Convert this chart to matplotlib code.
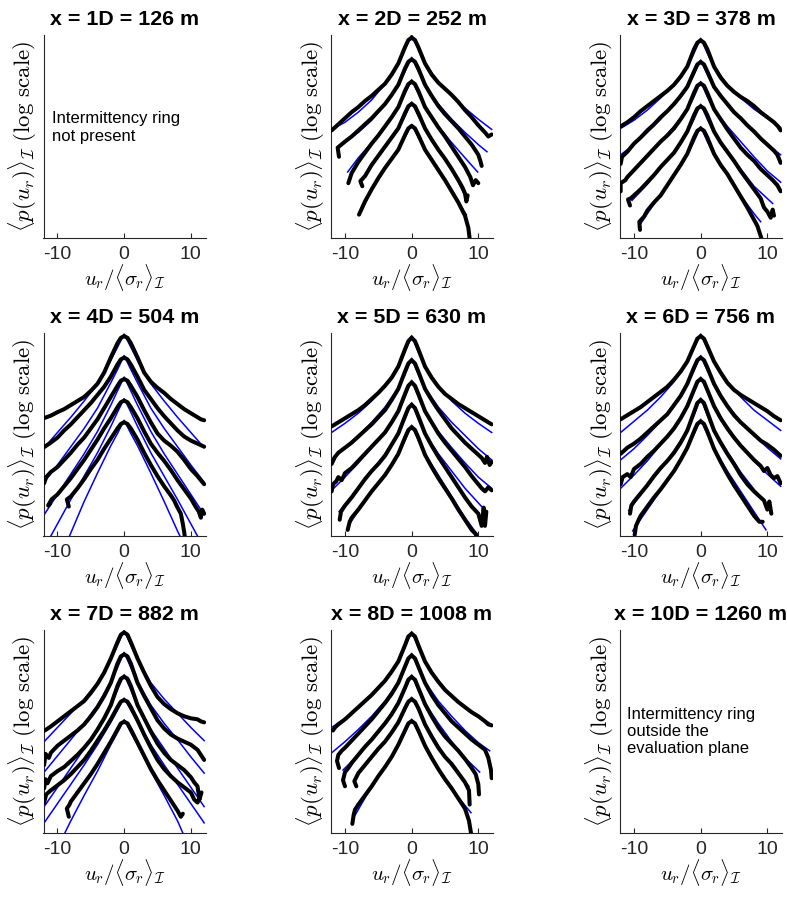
import numpy as np
import matplotlib.pyplot as plt

plt.rcParams.update({
    "font.family": ["Liberation Sans", "DejaVu Sans"],
    "mathtext.fontset": "cm",
    "axes.linewidth": 0.8,
    "axes.edgecolor": "#262626",
    "xtick.color": "#262626",
    "xtick.direction": "in",
    "xtick.major.size": 3.5,
})

TITLES = ["x = 1D = 126 m", "x = 2D = 252 m", "x = 3D = 378 m",
          "x = 4D = 504 m", "x = 5D = 630 m", "x = 6D = 756 m",
          "x = 7D = 882 m", "x = 8D = 1008 m", "x = 10D = 1260 m"]
NOTE_1D = "Intermittency ring\nnot present"
NOTE_10D = "Intermittency ring\noutside the\nevaluation plane"

# every curve: (u_r / <sigma_r>, log10 p) pairs, vertical offset arbitrary
PDF_2D = [
    [(-12, 5.3), (-11.5, 5.45), (-11, 5.6), (-10, 5.9), (-9, 6.2), (-8, 6.45), (-7, 6.75), (-6, 7.0), (-5, 7.3), (-4, 7.6), (-3, 8.05), (-2, 8.6), (-1, 9.4), (-0.5, 9.75), (0, 9.87), (0.5, 9.75), (1, 9.4), (2, 8.6), (3, 8.05), (4, 7.65), (5, 7.35), (6, 7.05), (7, 6.7), (8, 6.3), (9, 5.95), (10, 5.55), (11, 5.2), (11.5, 5.0), (12, 5.1)],
    [(-10.9, 4.0), (-11.1, 4.45), (-10, 4.75), (-9, 5.0), (-8, 5.3), (-7, 5.6), (-6, 5.9), (-5, 6.25), (-4, 6.6), (-3, 7.05), (-2, 7.55), (-1, 8.35), (-0.5, 8.68), (0, 8.8), (0.5, 8.68), (1, 8.35), (2, 7.55), (3, 7.0), (4, 6.5), (5, 6.1), (6, 5.75), (7, 5.4), (8, 5.0), (9, 4.6), (10, 4.1), (10.3, 3.8), (10.5, 3.55)],
    [(-9.5, 2.7), (-9, 3.2), (-8, 3.75), (-7, 4.2), (-6, 4.65), (-5, 5.05), (-4, 5.5), (-3, 5.95), (-2, 6.45), (-1, 7.25), (-0.5, 7.58), (0, 7.7), (0.5, 7.58), (1, 7.25), (2, 6.45), (3, 5.95), (4, 5.45), (5, 5.0), (6, 4.5), (7, 4.0), (8, 3.5), (8.8, 3.0), (9.2, 2.6), (9.6, 2.85), (10, 2.7)],
    [(-7.4, 2.55), (-7.7, 2.8), (-7, 3.05), (-6, 3.6), (-5, 4.05), (-4, 4.5), (-3, 4.95), (-2, 5.4), (-1, 6.15), (-0.5, 6.49), (0, 6.61), (0.5, 6.49), (1, 6.15), (2, 5.4), (3, 4.85), (4, 4.35), (5, 3.9), (6, 3.4), (7, 2.85), (7.6, 2.5), (8, 2.2), (8.2, 1.8), (8.4, 2.1)],
    [(-7.9, 1.15), (-7, 1.8), (-6, 2.4), (-5, 2.95), (-4, 3.45), (-3, 3.9), (-2, 4.35), (-1, 5.07), (-0.5, 5.4), (0, 5.52), (0.5, 5.4), (1, 5.07), (2, 4.35), (3, 3.85), (4, 3.35), (5, 2.85), (6, 2.3), (7, 1.75), (8, 1.1), (8.5, 0.5), (8.8, -0.3)],
]
FIT_2D = [
    [(-12, 5.35), (-10, 5.7), (-8, 6.2), (-6, 6.8), (-4, 7.6), (-2, 8.6), (-1, 9.3), (0, 10.0), (1, 9.3), (2, 8.6), (4, 7.7), (6, 7.0), (8, 6.4), (10, 5.85), (12, 5.35)],
    [(-11.2, 4.45), (-10, 4.75), (-8, 5.2), (-6, 5.8), (-4, 6.6), (-2, 7.55), (-1, 8.2), (0, 8.9), (1, 8.2), (2, 7.55), (4, 6.6), (6, 5.85), (8, 5.2), (10, 4.6), (11.3, 4.25)],
    [(-9.6, 3.25), (-8, 3.95), (-6, 4.7), (-4, 5.5), (-2, 6.45), (-1, 7.1), (0, 7.8), (1, 7.1), (2, 6.45), (4, 5.5), (6, 4.7), (8, 3.95), (9.9, 3.25)],
    [(-7.6, 2.75), (-6, 3.55), (-4, 4.45), (-2, 5.4), (-1, 6.0), (0, 6.7), (1, 6.0), (2, 5.4), (4, 4.4), (6, 3.45), (8.1, 2.0)],
    [(-7.6, 1.3), (-6, 2.35), (-4, 3.4), (-2, 4.35), (-1, 4.95), (0, 5.6), (1, 4.95), (2, 4.35), (4, 3.35), (6, 2.3), (8.2, 1.15)],
]

PDF_3D = [
    [(-12, 5.5), (-11, 5.7), (-10, 5.95), (-9, 6.25), (-8, 6.5), (-7, 6.75), (-6, 7.0), (-5, 7.25), (-4, 7.55), (-3, 7.95), (-2, 8.45), (-1, 9.3), (-0.5, 9.62), (0, 9.74), (0.5, 9.62), (1, 9.3), (2, 8.45), (3, 7.9), (4, 7.5), (5, 7.2), (6, 6.95), (7, 6.75), (8, 6.5), (9, 6.2), (10, 5.95), (11, 5.7), (11.6, 5.5), (12, 5.3)],
    [(-12, 3.65), (-11.8, 4.0), (-11, 4.25), (-10, 4.65), (-9, 4.95), (-8, 5.3), (-7, 5.6), (-6, 5.95), (-5, 6.25), (-4, 6.6), (-3, 7.0), (-2, 7.45), (-1, 8.2), (-0.5, 8.55), (0, 8.67), (0.5, 8.55), (1, 8.2), (2, 7.45), (3, 7.0), (4, 6.6), (5, 6.2), (6, 5.9), (7, 5.55), (8, 5.25), (9, 4.9), (10, 4.6), (11, 4.3), (11.5, 4.1), (12, 3.7)],
    [(-12, 2.3), (-12, 2.7), (-11.3, 2.85), (-11, 3.0), (-10, 3.35), (-9, 3.7), (-8, 4.05), (-7, 4.4), (-6, 4.75), (-5, 5.05), (-4, 5.4), (-3, 5.85), (-2, 6.35), (-1, 7.15), (-0.5, 7.5), (0, 7.61), (0.5, 7.5), (1, 7.15), (2, 6.35), (3, 5.85), (4, 5.35), (5, 4.9), (6, 4.45), (7, 4.1), (8, 3.8), (9, 3.4), (10, 3.1), (10.8, 2.85), (11.5, 2.6), (12, 2.3)],
    [(-10.6, 1.6), (-10.9, 1.9), (-10.5, 1.95), (-10, 2.1), (-9, 2.4), (-8, 2.75), (-7, 3.1), (-6, 3.5), (-5, 3.85), (-4, 4.2), (-3, 4.7), (-2, 5.25), (-1, 6.05), (-0.5, 6.38), (0, 6.49), (0.5, 6.38), (1, 6.05), (2, 5.25), (3, 4.7), (4, 4.25), (5, 3.8), (6, 3.3), (7, 2.85), (8, 2.4), (9, 1.95), (9.5, 1.5), (10, 1.3), (10.5, 1.0), (10.8, 1.4), (11, 1.1)],
    [(-9.1, 0.4), (-9.2, 0.8), (-8.5, 1.05), (-8, 1.35), (-7, 1.75), (-6, 2.1), (-5, 2.6), (-4, 3.1), (-3, 3.6), (-2, 4.15), (-1, 4.95), (-0.5, 5.28), (0, 5.39), (0.5, 5.28), (1, 4.95), (2, 4.15), (3, 3.6), (4, 3.15), (5, 2.6), (6, 2.05), (7, 1.5), (8, 0.9), (8.5, 0.6), (9.1, 0.0), (9.3, -0.3)],
]
FIT_3D = [
    [(-12, 5.4), (-10, 5.8), (-8, 6.3), (-6, 6.9), (-4, 7.55), (-2, 8.45), (-1, 9.1), (0, 9.84), (1, 9.1), (2, 8.45), (4, 7.55), (6, 6.9), (8, 6.35), (10, 5.9), (12, 5.45)],
    [(-12, 4.1), (-10, 4.6), (-8, 5.2), (-6, 5.85), (-4, 6.6), (-2, 7.45), (-1, 8.05), (0, 8.77), (1, 8.05), (2, 7.45), (4, 6.6), (6, 5.85), (8, 5.2), (10, 4.6), (12, 4.1)],
    [(-12, 2.7), (-10, 3.3), (-8, 4.0), (-6, 4.75), (-4, 5.5), (-2, 6.35), (-1, 6.95), (0, 7.71), (1, 6.95), (2, 6.35), (4, 5.5), (6, 4.75), (8, 4.0), (10, 3.3), (12, 2.75)],
    [(-10.3, 1.85), (-8, 2.65), (-6, 3.45), (-4, 4.25), (-2, 5.2), (-1, 5.85), (0, 6.59), (1, 5.85), (2, 5.2), (4, 4.25), (6, 3.4), (8, 2.55), (10.8, 1.7)],
    [(-9.3, 0.55), (-8, 1.2), (-6, 2.15), (-4, 3.1), (-2, 4.1), (-1, 4.75), (0, 5.49), (1, 4.75), (2, 4.1), (4, 3.1), (6, 2.1), (8, 1.2), (9.0, 0.8)],
]

PDF_4D = [
    [(-11.9, 5.82), (-11, 5.93), (-10, 6.1), (-9, 6.25), (-8, 6.45), (-7, 6.65), (-6, 6.85), (-5, 7.15), (-4, 7.5), (-3, 8.05), (-2, 8.8), (-1, 9.5), (-0.5, 9.76), (0, 9.85), (0.5, 9.76), (1, 9.5), (2, 8.8), (3, 8.05), (4, 7.6), (5, 7.3), (6, 7.05), (7, 6.75), (8, 6.5), (9, 6.25), (10, 6.05), (11, 5.85), (11.5, 5.75), (12, 5.7)],
    [(-12, 4.38), (-11, 4.6), (-10, 4.85), (-9, 5.2), (-8, 5.5), (-7, 5.85), (-6, 6.2), (-5, 6.55), (-4, 6.95), (-3, 7.35), (-2, 7.85), (-1, 8.45), (-0.5, 8.7), (0, 8.79), (0.5, 8.7), (1, 8.45), (2, 7.85), (3, 7.2), (4, 6.75), (5, 6.3), (6, 5.9), (7, 5.55), (8, 5.2), (9, 4.9), (10, 4.7), (11, 4.55), (12, 4.4)],
    [(-12, 2.6), (-11.7, 2.9), (-11, 3.15), (-10, 3.4), (-9, 3.75), (-8, 4.1), (-7, 4.5), (-6, 4.85), (-5, 5.3), (-4, 5.75), (-3, 6.3), (-2, 6.85), (-1, 7.4), (-0.5, 7.65), (0, 7.73), (0.5, 7.65), (1, 7.4), (2, 6.85), (3, 6.2), (4, 5.6), (5, 5.05), (6, 4.7), (7, 4.45), (8, 4.15), (9, 3.75), (10, 3.3), (11, 2.95), (12, 2.55)],
    [(-11.1, 1.6), (-11.4, 1.5), (-10.9, 1.8), (-10, 2.05), (-9, 2.45), (-8, 2.85), (-7, 3.3), (-6, 3.75), (-5, 4.25), (-4, 4.75), (-3, 5.3), (-2, 5.8), (-1, 6.35), (-0.5, 6.59), (0, 6.67), (0.5, 6.59), (1, 6.35), (2, 5.8), (3, 5.15), (4, 4.55), (5, 4.1), (6, 3.7), (7, 3.25), (8, 2.75), (9, 2.3), (10, 1.85), (10.7, 1.45), (11.2, 1.2), (11.5, 0.9), (11.7, 1.3), (12, 1.1)],
    [(-8.3, 1.45), (-8.6, 1.8), (-8, 1.95), (-7, 2.35), (-6, 2.8), (-5, 3.3), (-4, 3.75), (-3, 4.3), (-2, 4.8), (-1, 5.3), (-0.5, 5.52), (0, 5.6), (0.5, 5.52), (1, 5.3), (2, 4.75), (3, 4.1), (4, 3.5), (5, 2.95), (6, 2.45), (7, 2.0), (7.5, 1.75), (8, 1.4), (8.5, 1.1), (8.8, 0.6), (9.0, 0.2), (9.2, -0.3)],
]
FIT_4D = [
    [(-12, 4.35), (-10, 5.1), (-8, 5.85), (-6, 6.65), (-4, 7.5), (-2, 8.65), (-1, 9.3), (0, 9.95), (1, 9.3), (2, 8.65), (4, 7.5), (6, 6.65), (8, 5.85), (10, 5.1), (12, 4.35)],
    [(-12, 2.65), (-10, 3.5), (-8, 4.4), (-6, 5.3), (-4, 6.3), (-2, 7.55), (-1, 8.2), (0, 8.89), (1, 8.2), (2, 7.55), (4, 6.3), (6, 5.3), (8, 4.4), (10, 3.5), (12, 2.65)],
    [(-12, 1.05), (-10, 2.05), (-8, 3.05), (-6, 4.05), (-4, 5.15), (-2, 6.45), (-1, 7.15), (0, 7.83), (1, 7.15), (2, 6.45), (4, 5.15), (6, 4.05), (8, 3.05), (10, 2.05), (12, 1.05)],
    [(-11.5, -0.3), (-11, 0.0), (-10, 0.6), (-8, 1.8), (-6, 2.95), (-4, 4.1), (-2, 5.4), (-1, 6.1), (0, 6.77), (1, 6.1), (2, 5.4), (4, 4.1), (6, 2.95), (8, 1.8), (10, 0.6), (11, 0.0), (11.5, -0.3)],
    [(-8.6, -0.3), (-8, 0.15), (-6, 1.7), (-4, 3.1), (-2, 4.45), (-1, 5.05), (0, 5.7), (1, 5.05), (2, 4.45), (4, 3.1), (6, 1.7), (8, 0.25), (8.8, -0.3)],
]

PDF_5D = [
    [(-12, 5.4), (-11, 5.6), (-10, 5.8), (-9, 6.0), (-8, 6.2), (-7, 6.45), (-6, 6.75), (-5, 7.05), (-4, 7.4), (-3, 7.8), (-2, 8.35), (-1, 9.2), (-0.5, 9.6), (0, 9.77), (0.5, 9.6), (1, 9.2), (2, 8.35), (3, 7.8), (4, 7.35), (5, 7.0), (6, 6.75), (7, 6.5), (8, 6.3), (9, 6.1), (10, 5.9), (11, 5.7), (12, 5.5)],
    [(-12, 3.55), (-11.5, 3.9), (-11, 4.1), (-10, 4.35), (-9, 4.6), (-8, 4.9), (-7, 5.2), (-6, 5.5), (-5, 5.85), (-4, 6.2), (-3, 6.7), (-2, 7.25), (-1, 8.1), (-0.5, 8.5), (0, 8.66), (0.5, 8.5), (1, 8.1), (2, 7.25), (3, 6.7), (4, 6.2), (5, 5.75), (6, 5.3), (7, 4.95), (8, 4.6), (9, 4.3), (10, 4.0), (10.5, 3.85), (11, 3.6), (11.3, 3.9), (11.7, 3.5), (12, 3.65)],
    [(-12, 2.2), (-11.8, 2.55), (-11.3, 2.7), (-11, 2.9), (-10.5, 2.75), (-10, 3.1), (-9, 3.35), (-8, 3.7), (-7, 4.05), (-6, 4.4), (-5, 4.75), (-4, 5.1), (-3, 5.6), (-2, 6.15), (-1, 7.0), (-0.5, 7.4), (0, 7.57), (0.5, 7.4), (1, 7.0), (2, 6.15), (3, 5.6), (4, 5.05), (5, 4.6), (6, 4.2), (7, 3.8), (8, 3.4), (9, 2.95), (10, 2.55), (10.5, 2.35), (11, 2.2), (11.5, 2.4), (12, 2.25)],
    [(-10.8, 0.8), (-10.6, 1.2), (-10, 1.5), (-9, 1.9), (-8, 2.35), (-7, 2.8), (-6, 3.2), (-5, 3.55), (-4, 3.95), (-3, 4.5), (-2, 5.05), (-1, 5.9), (-0.5, 6.3), (0, 6.47), (0.5, 6.3), (1, 5.9), (2, 5.05), (3, 4.45), (4, 3.9), (5, 3.4), (6, 2.9), (7, 2.4), (8, 1.9), (9, 1.45), (10, 1.1), (10.5, 0.5), (10.8, 1.4), (11, 0.5), (11.2, 1.2)],
    [(-9.6, 0.3), (-9.3, 0.7), (-9, 0.9), (-8, 1.3), (-7, 1.75), (-6, 2.2), (-5, 2.6), (-4, 3.0), (-3, 3.5), (-2, 4.05), (-1, 4.85), (-0.5, 5.22), (0, 5.36), (0.5, 5.22), (1, 4.85), (2, 4.0), (3, 3.4), (4, 2.85), (5, 2.35), (6, 1.85), (7, 1.3), (8, 0.8), (9, 0.3), (9.6, 0.1), (10, -0.3)],
]
FIT_5D = [
    [(-12, 5.1), (-10, 5.55), (-8, 6.05), (-6, 6.65), (-4, 7.4), (-2, 8.35), (-1, 9.05), (0, 9.87), (1, 9.05), (2, 8.35), (4, 7.4), (6, 6.65), (8, 6.05), (10, 5.55), (12, 5.1)],
    [(-12, 3.8), (-10, 4.35), (-8, 4.95), (-6, 5.6), (-4, 6.35), (-2, 7.3), (-1, 7.95), (0, 8.76), (1, 7.95), (2, 7.3), (4, 6.35), (6, 5.6), (8, 4.95), (10, 4.3), (12, 3.75)],
    [(-12, 2.25), (-10, 2.9), (-8, 3.6), (-6, 4.35), (-4, 5.15), (-2, 6.15), (-1, 6.85), (0, 7.67), (1, 6.85), (2, 6.15), (4, 5.15), (6, 4.35), (8, 3.6), (10, 2.9), (12, 2.35)],
    [(-10.9, 1.2), (-10, 1.55), (-8, 2.4), (-6, 3.2), (-4, 4.05), (-2, 5.05), (-1, 5.75), (0, 6.57), (1, 5.75), (2, 5.05), (4, 4.05), (6, 3.2), (8, 2.35), (10.5, 1.45)],
    [(-9.6, 0.45), (-8, 1.25), (-6, 2.15), (-4, 3.05), (-2, 4.05), (-1, 4.7), (0, 5.46), (1, 4.7), (2, 4.05), (4, 3.0), (6, 1.95), (8, 0.9), (9.8, 0.1)],
]

PDF_6D = [
    [(-12, 5.75), (-11, 5.95), (-10, 6.15), (-9, 6.35), (-8, 6.6), (-7, 6.85), (-6, 7.1), (-5, 7.35), (-4, 7.7), (-3, 8.1), (-2, 8.6), (-1, 9.35), (-0.5, 9.72), (0, 9.85), (0.5, 9.72), (1, 9.35), (2, 8.6), (3, 8.05), (4, 7.55), (5, 7.2), (6, 6.95), (7, 6.75), (8, 6.55), (9, 6.35), (10, 6.15), (11, 5.9), (12, 5.7)],
    [(-12, 4.05), (-11, 4.35), (-10, 4.55), (-9, 4.8), (-8, 5.1), (-7, 5.4), (-6, 5.7), (-5, 6.0), (-4, 6.45), (-3, 6.9), (-2, 7.5), (-1, 8.3), (-0.5, 8.66), (0, 8.79), (0.5, 8.66), (1, 8.3), (2, 7.5), (3, 6.9), (4, 6.4), (5, 5.95), (6, 5.6), (7, 5.3), (8, 5.0), (9, 4.7), (10, 4.5), (11, 4.25), (12, 3.95)],
    [(-12, 2.55), (-11.7, 2.9), (-11, 3.05), (-10.5, 2.9), (-10, 3.3), (-9, 3.55), (-8, 3.9), (-7, 4.2), (-6, 4.55), (-5, 4.9), (-4, 5.3), (-3, 5.8), (-2, 6.4), (-1, 7.2), (-0.5, 7.6), (0, 7.73), (0.5, 7.6), (1, 7.2), (2, 6.4), (3, 5.8), (4, 5.3), (5, 4.85), (6, 4.45), (7, 4.1), (8, 3.75), (9, 3.45), (9.5, 3.2), (10, 3.35), (10.5, 3.0), (11, 2.85), (11.5, 2.95), (12, 2.6)],
    [(-10.6, 1.1), (-10.4, 1.5), (-10, 1.7), (-9, 2.1), (-8, 2.5), (-7, 2.95), (-6, 3.35), (-5, 3.7), (-4, 4.1), (-3, 4.6), (-2, 5.2), (-1, 6.1), (-0.5, 6.55), (0, 6.7), (0.5, 6.55), (1, 6.1), (2, 5.2), (3, 4.6), (4, 4.05), (5, 3.55), (6, 3.0), (7, 2.55), (8, 2.2), (9, 1.9), (9.5, 1.75), (10, 1.3), (10.3, 1.7), (10.6, 1.1)],
    [(-9.9, 0.05), (-9.7, 0.5), (-9.3, 0.8), (-9, 1.0), (-8, 1.45), (-7, 1.9), (-6, 2.3), (-5, 2.75), (-4, 3.2), (-3, 3.75), (-2, 4.35), (-1, 5.15), (-0.5, 5.52), (0, 5.65), (0.5, 5.52), (1, 5.15), (2, 4.3), (3, 3.65), (4, 3.05), (5, 2.5), (6, 2.0), (7, 1.5), (8, 1.0), (8.8, 0.7), (9.3, 0.7)],
]
FIT_6D = [
    [(-12, 5.1), (-10, 5.65), (-8, 6.2), (-6, 6.85), (-4, 7.6), (-2, 8.6), (-1, 9.25), (0, 9.95), (1, 9.25), (2, 8.6), (4, 7.6), (6, 6.85), (8, 6.2), (10, 5.7), (12, 5.2)],
    [(-12, 3.75), (-10, 4.3), (-8, 4.95), (-6, 5.65), (-4, 6.45), (-2, 7.5), (-1, 8.15), (0, 8.89), (1, 8.15), (2, 7.5), (4, 6.45), (6, 5.65), (8, 4.95), (10, 4.35), (12, 3.8)],
    [(-12, 2.35), (-10, 3.0), (-8, 3.7), (-6, 4.5), (-4, 5.35), (-2, 6.4), (-1, 7.1), (0, 7.83), (1, 7.1), (2, 6.4), (4, 5.35), (6, 4.5), (8, 3.7), (10, 3.05), (12, 2.45)],
    [(-10.8, 1.25), (-10, 1.6), (-8, 2.45), (-6, 3.3), (-4, 4.2), (-2, 5.2), (-1, 5.95), (0, 6.8), (1, 5.95), (2, 5.2), (4, 4.15), (6, 3.15), (8, 2.3), (10.2, 1.4)],
    [(-10.2, 0.25), (-8, 1.3), (-6, 2.25), (-4, 3.2), (-2, 4.3), (-1, 5.0), (0, 5.75), (1, 5.0), (2, 4.3), (4, 3.2), (6, 2.2), (8, 1.2), (9.8, 0.3)],
]

PDF_7D = [
    [(-11.9, 5.05), (-11, 5.25), (-10, 5.5), (-9, 5.75), (-8, 6.0), (-7, 6.25), (-6, 6.5), (-5, 6.9), (-4, 7.35), (-3, 7.9), (-2, 8.6), (-1, 9.4), (-0.5, 9.77), (0, 9.88), (0.5, 9.77), (1, 9.4), (2, 8.6), (3, 7.9), (4, 7.25), (5, 6.7), (6, 6.35), (7, 6.1), (8, 5.9), (9, 5.75), (10, 5.65), (11, 5.6), (11.5, 5.5), (12, 5.45)],
    [(-12, 3.35), (-11.8, 3.9), (-11.3, 3.7), (-11, 3.95), (-10, 4.3), (-9, 4.55), (-8, 4.8), (-7, 5.05), (-6, 5.35), (-5, 5.75), (-4, 6.2), (-3, 6.75), (-2, 7.4), (-1, 8.35), (-0.5, 8.7), (0, 8.8), (0.5, 8.7), (1, 8.35), (2, 7.4), (3, 6.75), (4, 6.15), (5, 5.55), (6, 5.15), (7, 4.85), (8, 4.65), (9, 4.5), (10, 4.35), (11, 4.1), (11.5, 3.85), (12, 3.6)],
    [(-12, 2.2), (-11.8, 2.65), (-11.5, 2.45), (-11, 2.8), (-10, 3.05), (-9, 3.25), (-8, 3.55), (-7, 3.85), (-6, 4.2), (-5, 4.6), (-4, 5.1), (-3, 5.65), (-2, 6.3), (-1, 7.25), (-0.5, 7.6), (0, 7.7), (0.5, 7.6), (1, 7.25), (2, 6.3), (3, 5.65), (4, 5.0), (5, 4.4), (6, 3.95), (7, 3.6), (8, 3.35), (9, 3.1), (10, 2.75), (10.5, 2.5), (11, 2.3), (11.3, 1.65), (11.6, 2.0)],
    [(-12, 1.5), (-11.7, 1.9), (-11, 2.1), (-10, 2.35), (-9, 2.6), (-8, 2.9), (-7, 3.25), (-6, 3.6), (-5, 4.05), (-4, 4.55), (-3, 5.05), (-2, 5.6), (-1, 6.2), (-0.5, 6.47), (0, 6.55), (0.5, 6.47), (1, 6.2), (2, 5.55), (3, 4.85), (4, 4.2), (5, 3.6), (6, 3.15), (7, 2.8), (8, 2.5), (9, 2.25), (10, 2.0), (10.5, 1.65), (11, 1.5), (11.3, 1.7)],
    [(-8.3, 0.8), (-8.6, 1.2), (-8.2, 1.4), (-8, 1.55), (-7, 2.0), (-6, 2.45), (-5, 2.9), (-4, 3.4), (-3, 3.95), (-2, 4.5), (-1, 5.1), (-0.5, 5.4), (0, 5.48), (0.5, 5.4), (1, 5.1), (2, 4.45), (3, 3.8), (4, 3.15), (5, 2.6), (6, 2.1), (7, 1.6), (7.5, 1.35), (8, 1.1), (8.5, 0.8), (8.8, 0.95)],
]
FIT_7D = [
    [(-12, 4.5), (-10, 5.2), (-8, 5.9), (-6, 6.6), (-4, 7.4), (-2, 8.55), (-1, 9.25), (0, 9.98), (1, 9.25), (2, 8.55), (4, 7.4), (6, 6.6), (8, 5.9), (10, 5.2), (12, 4.55)],
    [(-12, 3.0), (-10, 3.8), (-8, 4.6), (-6, 5.4), (-4, 6.3), (-2, 7.45), (-1, 8.15), (0, 8.9), (1, 8.15), (2, 7.45), (4, 6.3), (6, 5.4), (8, 4.6), (10, 3.75), (12, 2.95)],
    [(-12, 1.3), (-10, 2.25), (-8, 3.2), (-6, 4.15), (-4, 5.1), (-2, 6.3), (-1, 7.05), (0, 7.8), (1, 7.05), (2, 6.3), (4, 5.1), (6, 4.15), (8, 3.2), (10, 2.25), (12, 1.3)],
    [(-12, 0.5), (-10, 1.45), (-8, 2.4), (-6, 3.35), (-4, 4.35), (-2, 5.45), (-1, 6.05), (0, 6.65), (1, 6.05), (2, 5.45), (4, 4.35), (6, 3.35), (8, 2.4), (10, 1.45), (12, 0.5)],
    [(-9.3, -0.3), (-8.9, 0.0), (-8, 0.6), (-6, 1.85), (-4, 3.05), (-2, 4.35), (-1, 4.95), (0, 5.58), (1, 4.95), (2, 4.35), (4, 3.05), (6, 1.85), (8, 0.6), (8.8, 0.0), (9.2, -0.3)],
]

PDF_8D = [
    [(-11.8, 5.05), (-11.5, 5.2), (-11, 5.35), (-10, 5.6), (-9, 5.9), (-8, 6.2), (-7, 6.5), (-6, 6.8), (-5, 7.15), (-4, 7.5), (-3, 7.95), (-2, 8.45), (-1, 9.25), (-0.5, 9.68), (0, 9.82), (0.5, 9.68), (1, 9.25), (2, 8.45), (3, 7.9), (4, 7.45), (5, 7.05), (6, 6.75), (7, 6.45), (8, 6.2), (9, 5.95), (10, 5.75), (11, 5.5), (11.5, 5.35), (12, 5.3)],
    [(-10.9, 3.2), (-11.2, 3.55), (-11, 3.85), (-10.5, 4.05), (-10, 4.2), (-9, 4.55), (-8, 4.9), (-7, 5.25), (-6, 5.6), (-5, 6.0), (-4, 6.4), (-3, 6.85), (-2, 7.4), (-1, 8.2), (-0.5, 8.6), (0, 8.75), (0.5, 8.6), (1, 8.2), (2, 7.4), (3, 6.8), (4, 6.3), (5, 5.9), (6, 5.5), (7, 5.2), (8, 4.9), (9, 4.6), (10, 4.35), (11, 4.1), (11.5, 3.7), (11.9, 3.1), (12, 2.7)],
    [(-10.0, 2.3), (-10.3, 2.6), (-10, 3.0), (-9.5, 3.2), (-9, 3.45), (-8, 3.85), (-7, 4.25), (-6, 4.6), (-5, 5.0), (-4, 5.4), (-3, 5.85), (-2, 6.4), (-1, 7.15), (-0.5, 7.55), (0, 7.69), (0.5, 7.55), (1, 7.15), (2, 6.35), (3, 5.75), (4, 5.2), (5, 4.75), (6, 4.4), (7, 4.05), (8, 3.65), (9, 3.2), (9.6, 2.9), (10, 2.4), (10.1, 1.9)],
    [(-8.3, 2.3), (-8.6, 2.55), (-8.3, 2.75), (-8, 2.95), (-7, 3.35), (-6, 3.75), (-5, 4.15), (-4, 4.5), (-3, 4.95), (-2, 5.45), (-1, 6.15), (-0.5, 6.47), (0, 6.59), (0.5, 6.47), (1, 6.15), (2, 5.35), (3, 4.75), (4, 4.2), (5, 3.75), (6, 3.4), (7, 2.95), (8, 2.5), (8.6, 2.1), (8.7, 1.4)],
    [(-8.9, 0.45), (-8.7, 0.9), (-8.5, 1.15), (-8, 1.4), (-7, 1.85), (-6, 2.3), (-5, 2.8), (-4, 3.25), (-3, 3.75), (-2, 4.35), (-1, 5.05), (-0.5, 5.4), (0, 5.51), (0.5, 5.4), (1, 5.05), (2, 4.3), (3, 3.7), (4, 3.15), (5, 2.65), (6, 2.2), (7, 1.7), (8, 1.2), (8.6, 0.6), (8.9, 0.0), (9.0, -0.3)],
]
FIT_8D = [
    [(-12, 5.2), (-10, 5.65), (-8, 6.15), (-6, 6.75), (-4, 7.5), (-2, 8.45), (-1, 9.15), (0, 9.92), (1, 9.15), (2, 8.45), (4, 7.5), (6, 6.75), (8, 6.2), (10, 5.75), (12, 5.35)],
    [(-12, 3.95), (-10, 4.5), (-8, 5.1), (-6, 5.75), (-4, 6.5), (-2, 7.45), (-1, 8.1), (0, 8.85), (1, 8.1), (2, 7.45), (4, 6.5), (6, 5.75), (8, 5.05), (10, 4.45), (11.7, 4.05)],
    [(-10.3, 3.1), (-8, 3.85), (-6, 4.65), (-4, 5.45), (-2, 6.4), (-1, 7.05), (0, 7.79), (1, 7.05), (2, 6.4), (4, 5.4), (6, 4.5), (8, 3.7), (10.2, 3.0)],
    [(-8.3, 2.85), (-6, 3.75), (-4, 4.5), (-2, 5.45), (-1, 6.05), (0, 6.69), (1, 6.05), (2, 5.4), (4, 4.3), (6, 3.3), (8.6, 2.3)],
    [(-8.8, 0.7), (-6, 2.3), (-4, 3.25), (-2, 4.3), (-1, 4.95), (0, 5.61), (1, 4.95), (2, 4.3), (4, 3.15), (6, 2.15), (8.9, 1.0)],
]

PANELS = [None, (PDF_2D, FIT_2D), (PDF_3D, FIT_3D),
          (PDF_4D, FIT_4D), (PDF_5D, FIT_5D), (PDF_6D, FIT_6D),
          (PDF_7D, FIT_7D), (PDF_8D, FIT_8D), None]
NOTES = {0: (NOTE_1D, -10.8, 5.44), 8: (NOTE_10D, -11.05, 5.0)}

LEFTS = [43.5, 331, 620]
BOTTOMS = [238, 536, 833]
W, H = 787, 901

fig = plt.figure(figsize=(W / 100, H / 100), dpi=100)
for i, title in enumerate(TITLES):
    r, c = divmod(i, 3)
    ax = fig.add_axes([LEFTS[c] / W, 1 - BOTTOMS[r] / H, 162 / W, 203 / H])
    data = PANELS[i]
    if data is not None:
        pdfs, fits = data
        for fit in fits:
            xy = np.array(fit)
            ax.plot(xy[:, 0], 10 ** xy[:, 1], color=(0, 0, 1), lw=1.1, zorder=2)
        for pdf in pdfs:
            xy = np.array(pdf)
            ax.plot(xy[:, 0], 10 ** xy[:, 1], color="k", lw=2.9,
                    solid_joinstyle="round", solid_capstyle="round", zorder=3)
    ax.set_yscale("log")
    ax.set_xlim(-12.1, 12.2)
    ax.set_ylim(1, 1e10)
    ax.set_xticks([-10, 0, 10])
    ax.set_xticklabels(["-10", "0", "10"])
    ax.set_yticks([])
    ax.yaxis.set_minor_locator(plt.NullLocator())
    ax.tick_params(axis="x", labelsize=14, pad=6)
    ax.spines["top"].set_visible(False)
    ax.spines["right"].set_visible(False)
    ax.set_title(title, fontsize=15.4, fontweight="bold", pad=7)
    ax.set_xlabel(r"$u_r/\langle\sigma_r\rangle_\mathcal{I}$", fontsize=15, labelpad=-1)
    ax.set_ylabel(r"$\langle p(u_r)\rangle_\mathcal{I}\ \mathrm{(log\ scale)}$",
                  fontsize=16.5, labelpad=3)
    if i in NOTES:
        txt, tx, ty = NOTES[i]
        ax.text(tx, 10 ** ty, txt, fontsize=12, va="center", ha="left",
                linespacing=1.2)

fig.savefig("out.png", dpi=100)
